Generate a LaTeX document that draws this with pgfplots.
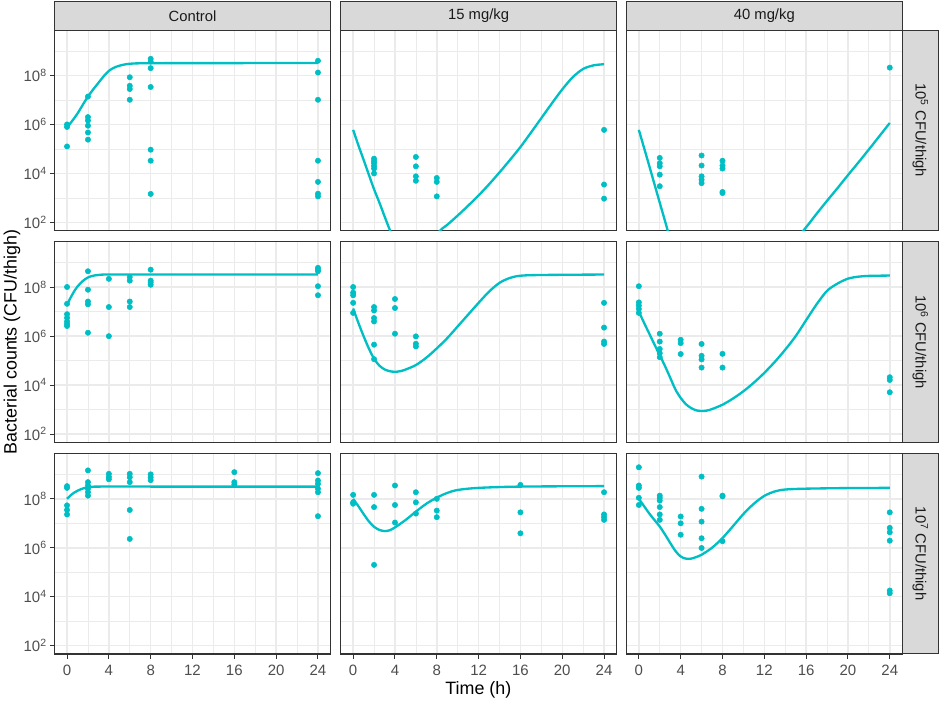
\documentclass[border=0pt]{standalone}
\usepackage{pgfplots}
\pgfplotsset{compat=1.18}
\usepackage{fontspec}
\setmainfont{Liberation Sans}
\definecolor{teal0}{HTML}{00BFC4}
\definecolor{grid92}{HTML}{EBEBEB}
\definecolor{grey20}{HTML}{333333}
\definecolor{grey30}{HTML}{4D4D4D}
\definecolor{grey85}{HTML}{D9D9D9}
\definecolor{grey10}{HTML}{1A1A1A}
\pgfplotsset{
  mypanel/.style={
    width=207pt, height=150.5pt, scale only axis,
    xmin=-1.2, xmax=25.2, ymin=45.7, ymax=7.24e9,
    xtick={0,4,...,24}, minor xtick={2,6,...,22},
    ytick={1e2,1e4,1e6,1e8}, minor ytick={1e3,1e5,1e7,1e9},
    grid=both,
    major grid style={color=grid92, line width=1.1pt},
    minor grid style={color=grid92, line width=0.55pt},
    axis line style={color=grey20, line width=1pt},
    tick pos=left, tick align=outside,
    major tick length=3.4pt, minor tick length=0pt,
    every tick/.style={color=grey20, line width=0.75pt},
    xtick style={draw=none}, ytick style={draw=none},
    xticklabels={}, yticklabels={},
    tick label style={font=\fontsize{11.25}{13}\selectfont, text=grey30},
    yticklabel style={anchor=east, inner sep=0pt, xshift=-2.2pt},
    xticklabel style={anchor=north, inner sep=0pt, yshift=-4.7pt},
    clip=true,
  },
  myleft/.style={
    ytick style={draw=grey20},
    yticklabels={10\textsuperscript{2},10\textsuperscript{4},10\textsuperscript{6},10\textsuperscript{8}},
  },
  mybottom/.style={
    xtick style={draw=grey20},
    xticklabels={0,4,8,12,16,20,24},
  },
  mypts/.style={only marks, mark=*, mark size=2pt, color=teal0, mark options={solid, draw=none, fill=teal0}},
  myfit/.style={no marks, color=teal0, line width=1.75pt, smooth},
}
\tikzset{strip/.style={fill=grey85, draw=grey20, line width=0.75pt},
  striptext/.style={font=\fontsize{11.1}{13}\selectfont, text=grey10}}
\begin{document}
\begin{tikzpicture}
\path[use as bounding box] (0,0) rectangle (705.75pt,-525.75pt);
% ---------- row 1 ----------
\begin{axis}[ymode=log, mypanel, myleft, at={(40.875pt,-22.5pt)}, anchor=north west, name=a11]
\addplot[mypts] coordinates {(0,1.0e6)(0,7.9e5)(0,1.26e5)(2,1.38e7)(2,2.0e6)(2,1.45e6)(2,8.9e5)(2,4.7e5)(2,2.4e5)(6,8.5e7)(6,3.8e7)(6,2.8e7)(6,1.02e7)(8,4.8e8)(8,3.7e8)(8,2.0e8)(8,3.4e7)(8,9.3e4)(8,3.3e4)(8,1.45e3)(24,4.0e8)(24,1.32e8)(24,1.02e7)(24,3.3e4)(24,4.5e3)(24,1.48e3)(24,1.15e3)};
\addplot[myfit] coordinates {(0,7.6e5)(0.5,1.41e6)(1,2.8e6)(1.5,6.3e6)(2,1.38e7)(2.5,2.7e7)(3,5.0e7)(3.5,9.3e7)(4,1.55e8)(4.5,2.09e8)(5,2.51e8)(5.5,2.82e8)(6,3.02e8)(7,3.16e8)(10,3.2e8)(24,3.24e8)};
\end{axis}
\begin{axis}[ymode=log, mypanel, at={(255.45pt,-22.5pt)}, anchor=north west, name=a12]
\addplot[mypts] coordinates {(2,4.0e4)(2,3.16e4)(2,2.6e4)(2,2.0e4)(2,1.58e4)(2,1.0e4)(6,4.7e4)(6,1.95e4)(6,7.6e3)(6,5.0e3)(8,6.5e3)(8,4.5e3)(8,1.15e3)(24,6.0e5)(24,3.5e3)(24,9.3e2)};
\addplot[myfit] coordinates {(0,6.0e5)(0.5,1.41e5)(1,3.6e4)(1.5,8.9e3)(2,2.24e3)(2.5,6.6e2)(3,1.78e2)(3.5,50)(4,16)(4.5,7)(5,4.5)(5.5,3.5)(6,3.2)(7,8.9)(7.5,18)(8,32)(8.5,55)(9,79)(10,1.9e2)(11,4.8e2)(12,1.26e3)(13,3.6e3)(14,1.1e4)(15,3.55e4)(16,1.2e5)(17,4.6e5)(18,1.82e6)(19,7.2e6)(20,2.7e7)(21,8.5e7)(22,1.86e8)(23,2.6e8)(24,2.9e8)};
\end{axis}
\begin{axis}[ymode=log, mypanel, at={(469.725pt,-22.5pt)}, anchor=north west, name=a13]
\addplot[mypts] coordinates {(2,4.3e4)(2,2.6e4)(2,1.95e4)(2,8.9e3)(2,3.0e3)(6,5.4e4)(6,2.1e4)(6,7.6e3)(6,5.5e3)(6,4.0e3)(8,3.3e4)(8,2.1e4)(8,1.58e4)(8,1.74e3)(8,1.58e3)(24,2.1e8)};
\addplot[myfit] coordinates {(0,6.0e5)(0.5,1.1e5)(1,2.0e4)(1.5,3.55e3)(2,6.3e2)(2.5,1.15e2)(3,21)(3.5,6)(4,2.5)(5,1.2)(7,0.8)(10,0.8)(12,1.4)(13,2.5)(14,7)(15,20)(16,63)(17,2.24e2)(18,7.6e2)(19,2.5e3)(20,8.5e3)(21,2.8e4)(22,9.5e4)(23,3.3e5)(24,1.15e6)};
\end{axis}
% ---------- row 2 ----------
\begin{axis}[ymode=log, mypanel, myleft, at={(40.875pt,-181.275pt)}, anchor=north west, name=a21]
\addplot[mypts] coordinates {(0,1.02e8)(0,2.1e7)(0,7.9e6)(0,5.6e6)(0,4.0e6)(0,3.2e6)(0,2.6e6)(2,4.5e8)(2,7.9e7)(2,2.6e7)(2,2.0e7)(2,1.38e6)(4,2.2e8)(4,1.55e7)(4,1.0e6)(6,2.6e8)(6,1.86e8)(6,2.6e7)(6,1.55e7)(8,5.2e8)(8,1.86e8)(8,1.58e8)(8,1.26e8)(24,6.2e8)(24,5.2e8)(24,4.5e8)(24,1.1e8)(24,4.7e7)};
\addplot[myfit] coordinates {(0,1.9e7)(0.25,3.16e7)(0.5,5.0e7)(0.75,7.6e7)(1,1.07e8)(1.5,1.78e8)(2,2.51e8)(2.5,2.95e8)(3,3.16e8)(4,3.31e8)(10,3.31e8)(24,3.31e8)};
\end{axis}
\begin{axis}[ymode=log, mypanel, at={(255.45pt,-181.275pt)}, anchor=north west, name=a22]
\addplot[mypts] coordinates {(0,1.02e8)(0,6.0e7)(0,4.7e7)(0,2.3e7)(0,8.9e6)(2,1.55e7)(2,1.12e7)(2,5.5e6)(2,4.0e6)(2,4.5e5)(2,1.15e5)(4,3.3e7)(4,1.41e7)(4,1.26e6)(6,9.8e5)(6,4.9e5)(6,3.8e5)(24,2.3e7)(24,2.24e6)(24,6.0e5)(24,4.8e5)};
\addplot[myfit] coordinates {(0,1.35e7)(0.5,3.5e6)(1,1.0e6)(1.5,3.16e5)(2,1.2e5)(2.5,6.3e4)(3,4.4e4)(3.5,3.7e4)(4,3.5e4)(4.5,3.7e4)(5,4.3e4)(6,6.6e4)(7,1.32e5)(8,3.16e5)(9,8.3e5)(10,2.51e6)(11,7.6e6)(12,2.3e7)(13,6.6e7)(14,1.51e8)(15,2.4e8)(16,2.95e8)(18,3.16e8)(24,3.3e8)};
\end{axis}
\begin{axis}[ymode=log, mypanel, at={(469.725pt,-181.275pt)}, anchor=north west, name=a23]
\addplot[mypts] coordinates {(0,1.1e8)(0,2.4e7)(0,1.78e7)(0,1.3e7)(0,8.9e6)(2,1.26e6)(2,6.0e5)(2,3.0e5)(2,2.0e5)(2,1.38e5)(4,7.1e5)(4,5.2e5)(4,1.86e5)(6,4.8e5)(6,1.58e5)(6,1.12e5)(6,5.2e4)(8,1.9e5)(8,5.2e4)(24,2.1e4)(24,1.62e4)(24,5.1e3)};
\addplot[myfit] coordinates {(0,1.0e7)(0.5,3.5e6)(1,1.26e6)(1.5,4.5e5)(2,1.66e5)(2.5,6.0e4)(3,2.0e4)(3.5,6.6e3)(4,3.0e3)(4.5,1.66e3)(5,1.15e3)(5.5,9.3e2)(6,8.7e2)(6.5,9.1e2)(7,1.05e3)(8,1.58e3)(9,2.82e3)(10,5.6e3)(11,1.26e4)(12,3.16e4)(13,8.9e4)(14,2.8e5)(15,1.0e6)(16,4.5e6)(17,2.0e7)(18,7.1e7)(19,1.41e8)(20,2.24e8)(21,2.7e8)(22,2.9e8)(24,3.0e8)};
\end{axis}
% ---------- row 3 ----------
\begin{axis}[ymode=log, mypanel, myleft, mybottom, at={(40.875pt,-339.975pt)}, anchor=north west, name=a31]
\addplot[mypts] coordinates {(0,3.3e8)(0,2.8e8)(0,5.4e7)(0,3.5e7)(0,2.3e7)(2,1.45e9)(2,4.8e8)(2,3.5e8)(2,2.6e8)(2,1.86e8)(2,1.35e8)(4,1.05e9)(4,7.9e8)(4,6.3e8)(6,1.05e9)(6,7.6e8)(6,4.8e8)(6,3.5e7)(6,2.3e6)(8,1.0e9)(8,7.6e8)(8,5.8e8)(16,1.23e9)(16,4.8e8)(16,3.8e8)(24,1.12e9)(24,5.6e8)(24,4.1e8)(24,2.6e8)(24,1.86e8)(24,1.95e7)};
\addplot[myfit] coordinates {(0,1.0e8)(0.5,1.58e8)(1,2.14e8)(1.5,2.63e8)(2,2.95e8)(3,3.16e8)(10,3.16e8)(24,3.16e8)};
\end{axis}
\begin{axis}[ymode=log, mypanel, mybottom, at={(255.45pt,-339.975pt)}, anchor=north west, name=a32]
\addplot[mypts] coordinates {(0,1.45e8)(0,7.2e7)(0,6.3e7)(2,1.45e8)(2,4.6e7)(2,2.0e5)(4,3.5e8)(4,5.6e7)(4,1.07e7)(6,1.86e8)(6,7.2e7)(6,2.5e7)(8,1.0e8)(8,3.3e7)(8,1.78e7)(16,3.7e8)(16,2.8e7)(16,3.9e6)(24,1.86e8)(24,2.3e7)(24,1.78e7)(24,1.38e7)};
\addplot[myfit] coordinates {(0,1.0e8)(0.5,5.0e7)(1,2.4e7)(1.5,1.2e7)(2,7.2e6)(2.5,5.4e6)(3,4.8e6)(3.5,5.2e6)(4,6.8e6)(5,1.35e7)(6,3.0e7)(7,6.3e7)(8,1.12e8)(9,1.74e8)(10,2.3e8)(12,2.8e8)(16,3.16e8)(24,3.3e8)};
\end{axis}
\begin{axis}[ymode=log, mypanel, mybottom, at={(469.725pt,-339.975pt)}, anchor=north west, name=a33]
\addplot[mypts] coordinates {(0,1.95e9)(0,3.5e8)(0,2.8e8)(0,1.1e8)(0,5.6e7)(2,1.35e8)(2,1.1e8)(2,8.5e7)(2,4.6e7)(2,2.3e7)(2,1.38e7)(4,1.9e7)(4,1.0e7)(4,3.4e6)(6,8.1e8)(6,3.9e7)(6,1.17e7)(6,2.45e6)(6,9.8e5)(8,1.35e8)(8,1.26e8)(8,1.86e6)(24,2.8e7)(24,6.5e6)(24,4.3e6)(24,1.95e6)(24,1.78e4)(24,1.38e4)};
\addplot[myfit] coordinates {(0,1.0e8)(0.5,5.0e7)(1,2.5e7)(1.5,1.35e7)(2,7.4e6)(2.5,3.5e6)(3,1.58e6)(3.5,7.4e5)(4,4.4e5)(4.5,3.6e5)(5,3.6e5)(5.5,4.2e5)(6,5.2e5)(7,1.0e6)(8,2.5e6)(9,7.6e6)(10,2.4e7)(11,6.3e7)(12,1.32e8)(13,2.0e8)(14,2.4e8)(16,2.6e8)(20,2.75e8)(24,2.8e8)};
\end{axis}
% ---------- strips ----------
\draw[strip] (a11.north west) rectangle ([yshift=21.25pt]a11.north east);
\node[striptext] at ([yshift=10.6pt]a11.north) {Control};
\draw[strip] (a12.north west) rectangle ([yshift=21.25pt]a12.north east);
\node[striptext] at ([yshift=10.6pt]a12.north) {15 mg/kg};
\draw[strip] (a13.north west) rectangle ([yshift=21.25pt]a13.north east);
\node[striptext] at ([yshift=10.6pt]a13.north) {40 mg/kg};
\draw[strip] (a13.north east) rectangle ([xshift=27pt]a13.south east);
\node[striptext, rotate=-90] at ([xshift=13.5pt]a13.east) {10\textsuperscript{5} CFU/thigh};
\draw[strip] (a23.north east) rectangle ([xshift=27pt]a23.south east);
\node[striptext, rotate=-90] at ([xshift=13.5pt]a23.east) {10\textsuperscript{6} CFU/thigh};
\draw[strip] (a33.north east) rectangle ([xshift=27pt]a33.south east);
\node[striptext, rotate=-90] at ([xshift=13.5pt]a33.east) {10\textsuperscript{7} CFU/thigh};
% ---------- titles ----------
\node[font=\fontsize{13.4}{16}\selectfont, text=black, inner sep=0pt] at (358.8pt,-517.5pt) {Time (h)};
\node[font=\fontsize{13.4}{16}\selectfont, text=black, rotate=90, inner sep=0pt] at (9pt,-256.5pt) {Bacterial counts (CFU/thigh)};
\end{tikzpicture}
\end{document}
